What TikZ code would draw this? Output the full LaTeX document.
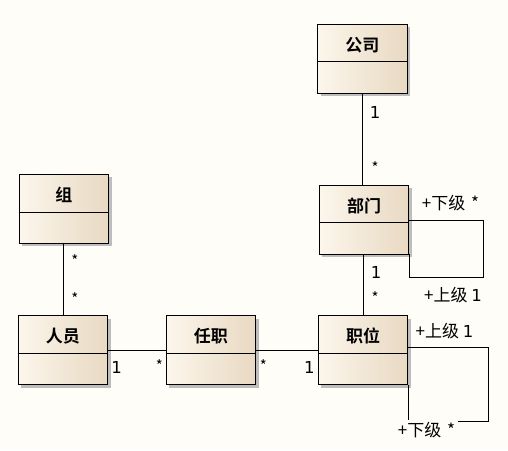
\documentclass[tikz,border=0pt]{standalone}
\usepackage{fontspec}
\newfontfamily\cjk{Noto Sans CJK SC}
\newfontfamily\cjkb{Noto Sans CJK SC Bold}
\newfontfamily\dgf{DejaVu Sans}
\usetikzlibrary{shadows,calc}
\definecolor{bgc}{HTML}{FFFDF8}
\definecolor{boxl}{HTML}{FCF6EC}
\definecolor{boxr}{HTML}{E8D9C2}
\definecolor{shd}{HTML}{BDBDBD}
\newcommand{\dg}[1]{{\dgf\fontsize{16.5}{17}\selectfont #1}}
\tikzset{
  umlbox/.style={rectangle, draw=black, line width=0.8pt, minimum width=89.5pt, minimum height=69pt,
    left color=boxl, right color=boxr, shading angle=90,
    drop shadow={shadow xshift=3pt, shadow yshift=-3pt, fill=shd, opacity=1}},
  ttl/.style={font=\cjkb\fontsize{17}{18}\selectfont, inner sep=0pt},
  lab/.style={font=\cjk\fontsize{15}{16}\selectfont, inner sep=0pt},
  role/.style={font=\cjk\fontsize{17}{18}\selectfont, inner sep=0pt},
  conn/.style={draw=black, line width=0.8pt},
}
\newcommand{\umlclass}[4]{%
  \node[umlbox] (#1) at (#2,#3) {};
  \draw[line width=0.8pt] ($(#1.north west)+(0,38)$) -- ($(#1.north east)+(0,38)$);
  \node[ttl] (#1t) at ($(#1.north)+(0,21)$) {#4};
}
\begin{document}
\begin{tikzpicture}[x=1pt,y=-1pt]
\fill[bgc] (0,0) rectangle (508,450);
\useasboundingbox (0,0) rectangle (508,450);

\umlclass{gs}{362.3}{58.7}{公司}
\umlclass{bm}{364}{219.5}{部门}
\umlclass{zw}{363}{350.2}{职位}
\umlclass{zu}{63.8}{208.8}{组}
\umlclass{ry}{62.8}{350.2}{人员}
\umlclass{rz}{210.8}{350.2}{任职}

% associations
\draw[conn] (gs.south) -- (gs.south |- bm.north);
\draw[conn] (bm.south) ++(-0.7,0) coordinate (bms) -- (bms |- zw.north);
\draw[conn] (zu.south) -- (zu.south |- ry.north);
\draw[conn] (ry.east) -- (rz.west);
\draw[conn] (rz.east) -- (zw.west);

% self associations
\draw[conn] ($(bm.north east)+(0,36)$) -| ($(bm.south east)+(74,23)$) -| (bm.south east);
\draw[conn] ($(zw.north east)+(0,32)$) -| ($(zw.south east)+(80,36)$) -| (zw.south east);

% multiplicities
\node[lab] (m1) at (375,112) {\dg{1}};
\node[lab] (m2) at (375,168) {*};
\node[lab] (m3) at (376,272.7) {\dg{1}};
\node[lab] (m4) at (375,298) {*};
\node[lab] (m5) at (75,261) {*};
\node[lab] (m6) at (75,299) {*};
\node[lab] (m7) at (116.7,367.3) {\dg{1}};
\node[lab] (m8) at (159.3,366) {*};
\node[lab] (m9) at (263.3,366) {*};
\node[lab] (m10) at (309.3,367.3) {\dg{1}};

% roles
\node[role] (r1) at (450.5,203) {+下级\,\,*};
\node[role] (r2) at (453,295) {+上级 \dg{1}};
\node[role] (r3) at (444.5,331) {+上级 \dg{1}};
\node[role, fill=bgc, inner sep=2.5pt] (r4) at (426.5,430) {+下级\,\,*};
\end{tikzpicture}
\end{document}
